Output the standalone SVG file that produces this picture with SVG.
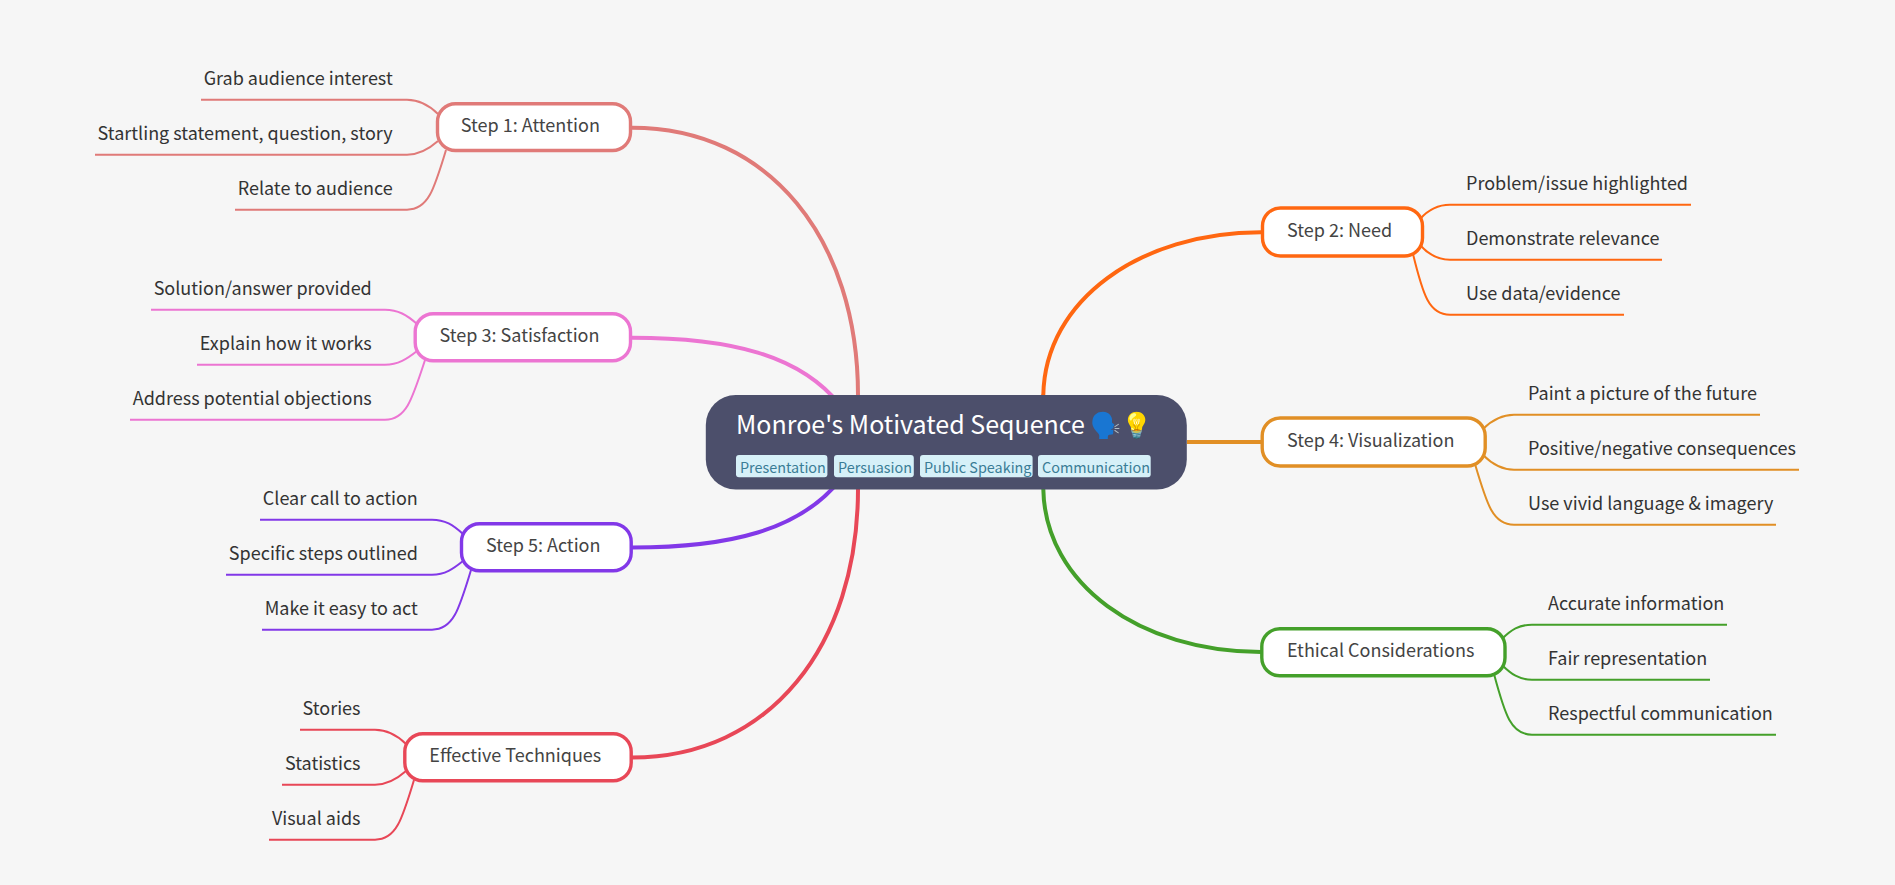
<svg xmlns="http://www.w3.org/2000/svg" width="1895" height="885" viewBox="0 0 1895 885">
<style>
text{font-family:"Noto Sans CJK SC","Noto Color Emoji","Noto Sans",sans-serif}
.m{fill:none;stroke-width:4;stroke-linecap:butt}
.c{fill:none;stroke-width:2}
.n{fill:#fff;stroke-width:3.4}
.nt{font-size:18px;fill:#444}
.lt{font-size:18px;fill:#333}
.r{text-anchor:end}
.tag{fill:#d6f0f8}
.tt{font-size:14.4px;fill:#3a7d96}
.a{stroke:#e07a78}.b{stroke:#ff6711}.d{stroke:#ec75d2}.e{stroke:#e18f25}.f{stroke:#8238e8}.g{stroke:#44a02a}.h{stroke:#e84757}
</style>
<rect width="1895" height="885" fill="#f6f6f6"/>
<g id="connectors">
<path class="m a" d="M632,127.7C770,127.7 858,240 858,395L860,430"/>
<path class="m d" d="M632,337.7C730,337.7 800,355 840,405"/>
<path class="m f" d="M632,547.5C730,547.5 800,530 840,480"/>
<path class="m h" d="M632,757.5C770,757.5 858,645 858,489L860,460"/>
<path class="m b" d="M1261,232.3C1140,232.3 1045,300 1043.3,395L1041,430"/>
<path class="m e" d="M1187,442H1261"/>
<path class="m g" d="M1261,652C1140,652 1045,584 1043.3,489L1041,460"/>
<path class="c a" d="M201,99.7H407C420,99.7 429,105 438,114"/>
<path class="c a" d="M95,154.7H407C420,154.7 429,149 438,141"/>
<path class="c a" d="M235,209.7H407C428,209.7 434,190 446,150"/>
<path class="c d" d="M151,309.7H385C398,309.7 407,315 417,324"/>
<path class="c d" d="M197,364.7H385C398,364.7 407,359 417,351"/>
<path class="c d" d="M130,419.7H385C406,419.7 412,400 425,360"/>
<path class="c f" d="M260,519.7H432C445,519.7 453,525 463,534"/>
<path class="c f" d="M226,574.7H432C445,574.7 453,569 463,561"/>
<path class="c f" d="M262,629.7H432C453,629.7 459,610 471,570"/>
<path class="c h" d="M300,729.7H375C388,729.7 397,735 406,744"/>
<path class="c h" d="M282,784.7H375C388,784.7 397,779 406,771"/>
<path class="c h" d="M269,839.7H375C396,839.7 402,820 414,780"/>
<path class="c b" d="M1691,204.7H1450C1437,204.7 1428,210 1420,219"/>
<path class="c b" d="M1662,259.7H1450C1437,259.7 1428,254 1420,245"/>
<path class="c b" d="M1624,314.7H1450C1429,314.7 1423,295 1413,254"/>
<path class="c e" d="M1760,414.7H1514C1501,414.7 1492,420 1483,429"/>
<path class="c e" d="M1799,469.7H1514C1501,469.7 1492,464 1483,455"/>
<path class="c e" d="M1776,524.7H1514C1493,524.7 1487,505 1475,464"/>
<path class="c g" d="M1727,624.7H1532C1519,624.7 1511,630 1502,639"/>
<path class="c g" d="M1710,679.7H1532C1519,679.7 1511,674 1502,665"/>
<path class="c g" d="M1776,734.7H1532C1511,734.7 1505,715 1494,674"/>
</g>
<g id="root">
<rect x="705.8" y="395" width="481" height="94.6" rx="30" fill="#4c4f6b"/>
<text x="736" y="434" font-size="25" fill="#fff">Monroe's Motivated Sequence 🗣️💡</text>
<rect class="tag" x="736" y="455" width="91.4" height="22.3" rx="3"/><text class="tt" x="740" y="473">Presentation</text>
<rect class="tag" x="834" y="455" width="79.8" height="22.3" rx="3"/><text class="tt" x="838" y="473">Persuasion</text>
<rect class="tag" x="920" y="455" width="112.6" height="22.3" rx="3"/><text class="tt" x="924" y="473">Public Speaking</text>
<rect class="tag" x="1038" y="455" width="112.7" height="22.3" rx="3"/><text class="tt" x="1042" y="473">Communication</text>
</g>
<g id="step1"><rect class="n a" x="437.5" y="103.8" width="193" height="46.7" rx="18"/><text class="nt" x="460.8" y="131.7">Step 1: Attention</text></g>
<g id="step2"><rect class="n b" x="1262.5" y="208" width="160" height="48" rx="18"/><text class="nt" x="1287" y="237.3">Step 2: Need</text></g>
<g id="step3"><rect class="n d" x="415.2" y="313.8" width="215.3" height="47" rx="18"/><text class="nt" x="439.6" y="341.7">Step 3: Satisfaction</text></g>
<g id="step4"><rect class="n e" x="1262.2" y="418" width="223" height="48" rx="18"/><text class="nt" x="1287" y="447.3">Step 4: Visualization</text></g>
<g id="step5"><rect class="n f" x="461.5" y="523.8" width="169.7" height="47" rx="18"/><text class="nt" x="486" y="551.7">Step 5: Action</text></g>
<g id="ethical"><rect class="n g" x="1261.8" y="628.8" width="243.2" height="47" rx="18"/><text class="nt" x="1287" y="656.7">Ethical Considerations</text></g>
<g id="techniques"><rect class="n h" x="404.8" y="733.8" width="226.4" height="47" rx="18"/><text class="nt" x="429.3" y="761.7">Effective Techniques</text></g>
<g id="leaf-attention">
<text class="lt r" x="392.7" y="85">Grab audience interest</text>
<text class="lt r" x="392.7" y="140">Startling statement, question, story</text>
<text class="lt r" x="392.7" y="195">Relate to audience</text>
</g>
<g id="leaf-satisfaction">
<text class="lt r" x="371.8" y="295">Solution/answer provided</text>
<text class="lt r" x="371.8" y="350">Explain how it works</text>
<text class="lt r" x="371.8" y="405">Address potential objections</text>
</g>
<g id="leaf-action">
<text class="lt r" x="417.8" y="505">Clear call to action</text>
<text class="lt r" x="417.8" y="560">Specific steps outlined</text>
<text class="lt r" x="417.8" y="615">Make it easy to act</text>
</g>
<g id="leaf-techniques">
<text class="lt r" x="360.5" y="715">Stories</text>
<text class="lt r" x="360.5" y="770">Statistics</text>
<text class="lt r" x="360.5" y="825">Visual aids</text>
</g>
<g id="leaf-need">
<text class="lt" x="1466" y="190">Problem/issue highlighted</text>
<text class="lt" x="1466" y="245">Demonstrate relevance</text>
<text class="lt" x="1466" y="300">Use data/evidence</text>
</g>
<g id="leaf-visualization">
<text class="lt" x="1528" y="400">Paint a picture of the future</text>
<text class="lt" x="1528" y="455">Positive/negative consequences</text>
<text class="lt" x="1528" y="510">Use vivid language &amp; imagery</text>
</g>
<g id="leaf-ethical">
<text class="lt" x="1548" y="610">Accurate information</text>
<text class="lt" x="1548" y="665">Fair representation</text>
<text class="lt" x="1548" y="720">Respectful communication</text>
</g>
</svg>
